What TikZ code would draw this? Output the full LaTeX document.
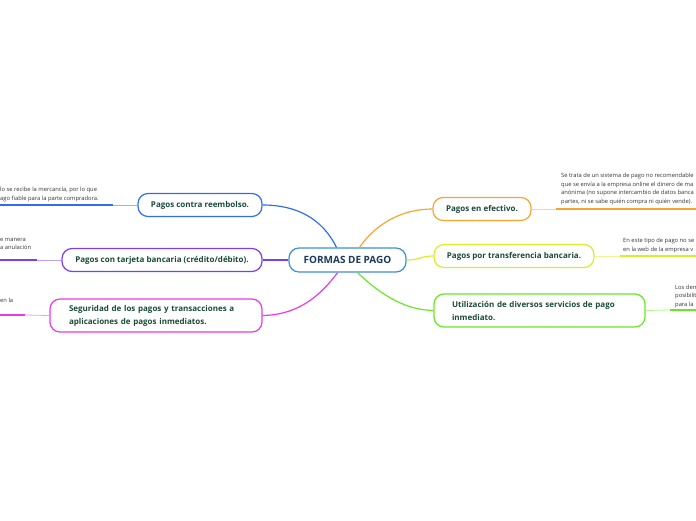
\documentclass[tikz,border=0pt]{standalone}
\usepackage{fontspec}
\setmainfont{Open Sans}

\definecolor{rootblue}{HTML}{3D8FD9}
\definecolor{rootink}{HTML}{1C3A5E}
\definecolor{topicink}{HTML}{1A4A3A}
\definecolor{noteink}{HTML}{333333}
\definecolor{cblue}{HTML}{2F6EF0}
\definecolor{cviolet}{HTML}{7A3FF0}
\definecolor{cmagenta}{HTML}{E83AE8}
\definecolor{corange}{HTML}{F7A530}
\definecolor{cyellow}{HTML}{D8EE2C}
\definecolor{cgreen}{HTML}{6AE62A}

\tikzset{
    topic/.style={draw=#1, line width=1.2pt, rounded corners=10pt, fill=white,
        text=topicink, font=\fontsize{8}{13}\selectfont\bfseries,
        minimum height=23pt, inner xsep=10pt},
    note/.style={text=noteink, font=\fontsize{5.8}{8.5}\selectfont, align=left,
        inner sep=0pt, anchor=south west},
    branch/.style={draw=#1, line width=1.2pt},
    lead/.style={draw=#1!50, line width=0.8pt},
    underline/.style={draw=#1, line width=2pt}
}

\begin{document}
\begin{tikzpicture}[x=1pt, y=-1pt]
            \useasboundingbox (0, 0) rectangle (696, 520);
            \clip (0, 0) rectangle (696, 520);
            %\draw[lightgray] (0, 0) grid[step=20] (696, 520);
            \node[draw=rootblue, line width=1.2pt, rounded corners=10pt, fill=white, text=rootink,
                font=\fontsize{10}{12}\selectfont\bfseries, minimum width=117pt, minimum height=24pt]
                (root) at (347.5, 260) {FORMAS DE PAGO};

            % left side
            \node[topic=cblue, minimum width=124pt] (reembolso) at (200, 205) {Pagos contra reembolso.};
            \node[topic=cviolet, minimum width=200pt] (tarjeta) at (162, 260) {Pagos con tarjeta bancaria (crédito/débito).};
            \node[topic=cmagenta, minimum width=212pt, minimum height=33pt, text width=174pt, align=left, inner xsep=19pt]
                (seguridad) at (156, 315.5) {Seguridad de los pagos y transacciones a\\aplicaciones de pagos inmediatos.};

            % right side
            \node[topic=corange, minimum width=98pt] (efectivo) at (482, 209) {Pagos en efectivo.};
            \node[topic=cyellow, minimum width=160pt] (transferencia) at (514, 256) {Pagos por transferencia bancaria.};
            \node[topic=cgreen, minimum width=211pt, minimum height=33pt, text width=175pt, align=left, inner xsep=18pt]
                (inmediato) at (539.5, 310.5) {Utilización de diversos servicios de pago\\inmediato.};

            % branches from the centre
            \draw[branch=cblue] ([xshift=-11pt]root.north) .. controls (322, 218) and (296, 205) .. (reembolso.east);
            \draw[branch=cviolet] (root.west) -- (tarjeta.east);
            \draw[branch=cmagenta] ([xshift=-10pt]root.south) .. controls (316, 302) and (292, 315) .. (seguridad.east);
            \draw[branch=corange] ([xshift=12pt]root.north) .. controls (377, 222) and (404, 209) .. (efectivo.west);
            \draw[branch=cyellow] (root.east) .. controls (420, 260) and (420, 256) .. (transferencia.west);
            \draw[branch=cgreen] ([xshift=10pt]root.south) .. controls (384, 298) and (408, 310) .. (inmediato.west);

            % notes, left
            \coordinate (reembolsoMid) at (113, 205);
            \coordinate (reembolsoEnd) at (0, 205);
            \draw[lead=cblue] (reembolso.west) -- (reembolsoMid);
            \draw[underline=cblue] (reembolsoMid) -- (reembolsoEnd);
            \node[note] (reembolsoTxt) at (0, 202) {lo se recibe la mercancía, por lo que\\ago fiable para la parte compradora.};

            \coordinate (tarjetaMid) at (37, 260);
            \coordinate (tarjetaEnd) at (0, 260);
            \draw[lead=cviolet] (tarjeta.west) -- (tarjetaMid);
            \draw[underline=cviolet] (tarjetaMid) -- (tarjetaEnd);
            \node[note] (tarjetaTxt) at (0, 250) {e manera\\a anulación};

            \coordinate (seguridadMid) at (25, 315);
            \coordinate (seguridadEnd) at (0, 315);
            \draw[lead=cmagenta] (seguridad.west) -- (seguridadMid);
            \draw[underline=cmagenta] (seguridadMid) -- (seguridadEnd);
            \node[note] (seguridadTxt) at (0, 303) {en la};

            % notes, right
            \coordinate (efectivoMid) at (556, 209);
            \coordinate (efectivoEnd) at (696, 209);
            \draw[lead=corange] (efectivo.east) -- (efectivoMid);
            \draw[underline=corange] (efectivoMid) -- (efectivoEnd);
            \node[note] (efectivoTxt) at (561, 205) {Se trata de un sistema de pago no recomendable\\que se envía a la empresa online el dinero de ma\\anónima (no supone intercambio de datos banca\\partes, ni se sabe quién compra ni quién vende).};

            \coordinate (transferenciaMid) at (620, 256);
            \coordinate (transferenciaEnd) at (696, 256);
            \draw[lead=cyellow] (transferencia.east) -- (transferenciaMid);
            \draw[underline=cyellow] (transferenciaMid) -- (transferenciaEnd);
            \node[note] (transferenciaTxt) at (623, 253) {En este tipo de pago no se\\en la web de la empresa v};

            \coordinate (inmediatoMid) at (670, 310);
            \coordinate (inmediatoEnd) at (696, 310);
            \draw[lead=cgreen] (inmediato.east) -- (inmediatoMid);
            \draw[underline=cgreen] (inmediatoMid) -- (inmediatoEnd);
            \node[note] (inmediatoTxt) at (675, 308) {Los dem\\posibilit\\para la};
        \end{tikzpicture}
\end{document}
